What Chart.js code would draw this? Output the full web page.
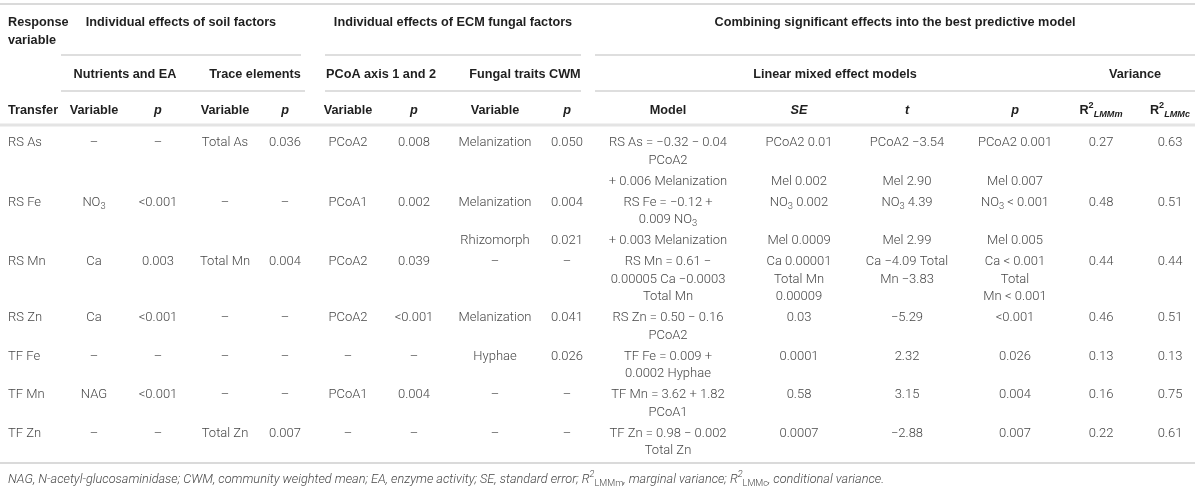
<!DOCTYPE html>
<html>
<head>
<meta charset="utf-8">
<script src="https://cdn.jsdelivr.net/npm/chart.js@4.4.1/dist/chart.umd.min.js"></script>
<style>
  html, body { margin: 0; padding: 0; background: #fff; }
  #wrap { width: 1200px; height: 489px; }
</style>
</head>
<body>
<div id="wrap"><canvas id="table" width="1200" height="489"></canvas></div>
<script>
// ---- table content ----
const transfers   = ["RS As", "RS Fe", "RS Mn", "RS Zn", "TF Fe", "TF Mn", "TF Zn"];
const nutrientVar = ["–", "NO_{3}", "Ca", "Ca", "–", "NAG", "–"];
const nutrientP   = ["–", "<0.001", "0.003", "<0.001", "–", "<0.001", "–"];
const traceVar    = ["Total As", "–", "Total Mn", "–", "–", "–", "Total Zn"];
const traceP      = ["0.036", "–", "0.004", "–", "–", "–", "0.007"];
const pcoaVar     = ["PCoA2", "PCoA1", "PCoA2", "PCoA2", "–", "PCoA1", "–"];
const pcoaP       = ["0.008", "0.002", "0.039", "<0.001", "–", "0.004", "–"];
const traitVar    = ["Melanization", [["Melanization"], ["Rhizomorph"]], "–", "Melanization", "Hyphae", "–", "–"];
const traitP      = ["0.050", [["0.004"], ["0.021"]], "–", "0.041", "0.026", "–", "–"];
const models = [
  [["RS As = −0.32 − 0.04", "PCoA2"], ["+ 0.006 Melanization"]],
  [["RS Fe = −0.12 +", "0.009 NO_{3}"], ["+ 0.003 Melanization"]],
  ["RS Mn = 0.61 −", "0.00005 Ca −0.0003", "Total Mn"],
  ["RS Zn = 0.50 − 0.16", "PCoA2"],
  ["TF Fe = 0.009 +", "0.0002 Hyphae"],
  ["TF Mn = 3.62 + 1.82", "PCoA1"],
  ["TF Zn = 0.98 − 0.002", "Total Zn"]
];
const modelSE = [
  [["PCoA2 0.01"], ["Mel 0.002"]],
  [["NO_{3} 0.002"], ["Mel 0.0009"]],
  ["Ca 0.00001", "Total Mn", "0.00009"],
  "0.03", "0.0001", "0.58", "0.0007"
];
const modelT = [
  [["PCoA2 −3.54"], ["Mel 2.90"]],
  [["NO_{3} 4.39"], ["Mel 2.99"]],
  ["Ca −4.09 Total", "Mn −3.83"],
  "−5.29", "2.32", "3.15", "−2.88"
];
const modelP = [
  [["PCoA2 0.001"], ["Mel 0.007"]],
  [["NO_{3} < 0.001"], ["Mel 0.005"]],
  ["Ca < 0.001", "Total", "Mn < 0.001"],
  "<0.001", "0.026", "0.004", "0.007"
];
const r2m = ["0.27", "0.48", "0.44", "0.46", "0.13", "0.16", "0.22"];
const r2c = ["0.63", "0.51", "0.44", "0.51", "0.13", "0.75", "0.61"];

const groupHeaders = ["Individual effects of soil factors", "Individual effects of ECM fungal factors",
                      "Combining significant effects into the best predictive model"];
const subHeaders = ["Nutrients and EA", "Trace elements", "PCoA axis 1 and 2", "Fungal traits CWM",
                    "Linear mixed effect models", "Variance"];
const colHeaders = ["Transfer", "Variable", "*p*", "Variable", "*p*", "Variable", "*p*", "Variable", "*p*",
                    "Model", "*SE*", "*t*", "*p*", "R^{2}_{*LMMm*}", "R^{2}_{*LMMc*}"];
const footnote = "*NAG, N-acetyl-glucosaminidase; CWM, community weighted mean; EA, enzyme activity; " +
                 "SE, standard error; R^{2}*_{LMMm}*, marginal variance; R^{2}*_{LMMc}*, conditional variance.*";

const columns = [transfers, nutrientVar, nutrientP, traceVar, traceP, pcoaVar, pcoaP, traitVar, traitP,
                 models, modelSE, modelT, modelP, r2m, r2c];

// ---- layout (in scale units) ----
const colX = [8, 94, 158, 225, 285, 348, 414, 495, 567, 668, 799, 907, 1015, 1101, 1170];
const groupX = [181, 453, 895];
const subX = [125, 255, 381, 525, 835, 1135];
const headY = { group: 21, sub: 73, col: 109 };
const firstRowY = 141.5, lineStep = 17.5, rowStep = 21;

const body = { size: 13, weight: 300, family: 'Roboto, "Liberation Sans", sans-serif', color: "#474747" };
const head = { size: 12.7, weight: "bold", family: '"Liberation Sans", Arial, sans-serif', color: "#1f1f1f" };
const foot = { size: 12.7, weight: 300, family: 'Roboto, "Liberation Sans", sans-serif', color: "#474747" };

const thin = { color: "#bdbdbd", width: 1.2 };
const light = { color: "#dadada", width: 2 };
const rules = [
  { y: 4, spans: [[0, 1195]], ...light },
  { y: 55, spans: [[61, 301], [325, 581], [595, 1195]], ...thin },
  { y: 91, spans: [[61, 305], [325, 581], [595, 1195]], ...thin },
  { y: 125, spans: [[0, 1195]], color: "#e4e4e4", width: 3 },
  { y: 463, spans: [[0, 1195]], ...light }
];

// ---- build text items ----
function normalize(cell) {
  if (typeof cell === "string") return [[cell]];
  if (Array.isArray(cell[0])) return cell;
  return [cell];
}

const items = [];
items.push({ text: "Response", x: 8, y: headY.group, align: "left", style: head });
items.push({ text: "variable", x: 8, y: headY.group + 18, align: "left", style: head });
groupHeaders.forEach((t, i) => items.push({ text: t, x: groupX[i], y: headY.group, align: "center", style: head }));
subHeaders.forEach((t, i) => items.push({ text: t, x: subX[i], y: headY.sub, align: "center", style: head }));
colHeaders.forEach((t, i) => items.push({ text: t, x: colX[i], y: headY.col, align: i === 0 ? "left" : "center", style: head }));

let yCur = firstRowY;
transfers.forEach((_, r) => {
  const rowCells = columns.map(col => normalize(col[r]));
  const nSub = Math.max(...rowCells.map(c => c.length));
  for (let s = 0; s < nSub; s++) {
    const nLines = Math.max(...rowCells.map(c => (c[s] ? c[s].length : 0)));
    rowCells.forEach((c, ci) => {
      if (!c[s]) return;
      c[s].forEach((line, li) => items.push({
        text: line, x: colX[ci], y: yCur + li * lineStep,
        align: ci === 0 ? "left" : "center", style: body
      }));
    });
    yCur += (nLines - 1) * lineStep + rowStep;
  }
});
items.push({ text: footnote, x: 8, y: 478, align: "left", style: foot });

// ---- rich text: *italic*, ^{sup}, _{sub} ----
function parseRich(str) {
  const segs = [];
  let italic = false, script = 0, buf = "";
  const push = () => { if (buf) segs.push({ t: buf, italic, script }); buf = ""; };
  for (let i = 0; i < str.length; i++) {
    const ch = str[i];
    if (ch === "*") { push(); italic = !italic; }
    else if ((ch === "_" || ch === "^") && str[i + 1] === "{") { push(); script = ch === "_" ? -1 : 1; i++; }
    else if (ch === "}" && script !== 0) { push(); script = 0; }
    else buf += ch;
  }
  push();
  return segs;
}

function drawRich(ctx, str, px, py, align, st) {
  const segs = parseRich(str);
  const fontFor = s => `${s.italic ? "italic " : ""}${st.weight} ${s.script ? st.size * 0.72 : st.size}px ${st.family}`;
  let total = 0;
  segs.forEach(s => { ctx.font = fontFor(s); s.w = ctx.measureText(s.t).width; total += s.w; });
  let cx = align === "left" ? px : px - total / 2;
  const base = py + st.size * 0.36;
  ctx.fillStyle = st.color;
  ctx.textBaseline = "alphabetic";
  ctx.textAlign = "left";
  segs.forEach(s => {
    ctx.font = fontFor(s);
    const dy = s.script === 1 ? -st.size * 0.4 : s.script === -1 ? st.size * 0.25 : 0;
    ctx.fillText(s.t, cx, base + dy);
    cx += s.w;
  });
}

const tableText = {
  id: "tableText",
  afterDatasetsDraw(chart) {
    const { ctx, scales: { x, y } } = chart;
    ctx.save();
    items.forEach(it => drawRich(ctx, it.text, x.getPixelForValue(it.x), y.getPixelForValue(it.y), it.align, it.style));
    ctx.restore();
  }
};

// horizontal rules as line datasets
const ruleSets = [];
rules.forEach(rl => rl.spans.forEach(([a, b]) => ruleSets.push({
  data: [{ x: a, y: rl.y }, { x: b, y: rl.y }],
  showLine: true, pointRadius: 0, borderColor: rl.color, borderWidth: rl.width, fill: false
})));

new Chart(document.getElementById("table"), {
  type: "scatter",
  data: { datasets: ruleSets },
  options: {
    responsive: false,
    animation: false,
    events: [],
    layout: { padding: 0 },
    plugins: { legend: { display: false }, tooltip: { enabled: false } },
    scales: {
      x: { type: "linear", min: 0, max: 1200, display: false },
      y: { type: "linear", min: 0, max: 489, reverse: true, display: false }
    }
  },
  plugins: [tableText]
});
</script>
</body>
</html>
